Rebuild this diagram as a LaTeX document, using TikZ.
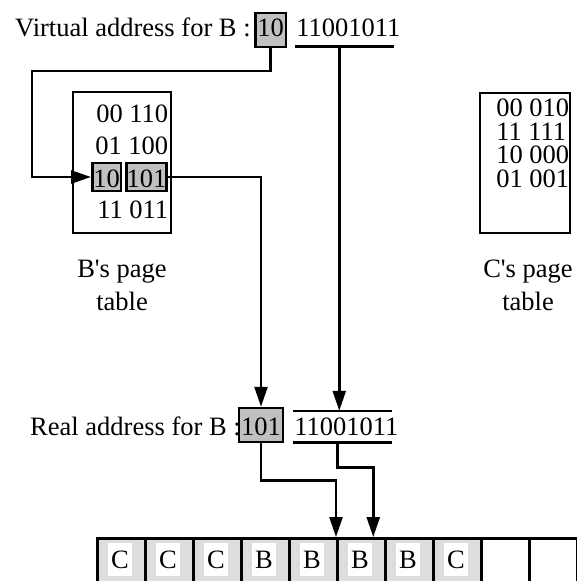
\documentclass[tikz,border=0pt]{standalone}
\usepackage{fontspec}
\setmainfont{Liberation Serif}
\usetikzlibrary{arrows.meta}
\definecolor{hlgray}{RGB}{192,192,192}
\definecolor{cellgray}{RGB}{221,221,221}

\begin{document}
\begin{tikzpicture}[x=1pt,y=-1pt,line width=2.5pt,
    font=\fontsize{26.5}{33}\selectfont,
    arr/.style={-{Triangle[length=20pt,width=13pt]}},
    hl/.style={draw,fill=hlgray,inner ysep=0pt,anchor=base},
    txt/.style={inner sep=0pt,anchor=base west},
    cell/.style={draw,anchor=north west,minimum width=48pt,minimum height=60pt,inner sep=0pt}]
    \useasboundingbox (0,0) rectangle (576,581);
    % virtual address
    \node[txt] (vlabel) at (14,36) {Virtual address for B :};
    \node[hl,inner xsep=2pt,text height=23pt,text depth=11pt] (vpage) at (270.5,36) {10};
    \node[txt,text depth=9pt] (voffset) at (295,36) {11001011};
    \draw (voffset.south west) -- ([xshift=-8pt]voffset.south east);
    \coordinate (vdrop) at ([xshift=-9pt]voffset.south);
    % B's page table
    \node[draw,minimum width=98pt,minimum height=141pt] (btable) at (122,162.5) {};
    \node[txt] (b0) at (95,122) {00 110};
    \node[txt] (b1) at (94,154) {01 100};
    \node[hl,inner xsep=1pt,text height=24pt,text depth=4pt] (bpage) at (106.5,187) {10};
    \node[hl,inner xsep=0pt,text height=24pt,text depth=4pt] (bframe) at (146.5,187) {101};
    \node[txt] (b3) at (96,218) {11 011};
    \node[align=center,anchor=base] (bcap) at (122,310) {B\textquotesingle s page\\table};
    \coordinate (vbend) at (32,71);
    \draw[arr] (vpage.south) |- (vbend) |- (bpage.west);
    % C's page table
    \node[draw,minimum width=90pt,minimum height=140pt] (ctable) at (525,163) {};
    \node[txt,align=left,font=\fontsize{26.5}{23.5}\selectfont] (crows) at (495,187)
      {00 010\\11 111\\10 000\\01 001};
    \node[align=center,anchor=base] (ccap) at (528,310) {C\textquotesingle s page\\table};
    % real address
    \node[txt] (rlabel) at (29,435) {Real address for B :};
    \node[hl,inner xsep=2pt,text height=27pt,text depth=7pt] (rframe) at (261,435) {101};
    \node[txt,text height=23pt,text depth=6pt] (roffset) at (293,435) {11001011};
    \draw (roffset.north west) -- ([xshift=-8pt]roffset.north east);
    \draw (roffset.south west) -- ([xshift=-8pt]roffset.south east);
    \coordinate (rdrop) at ([xshift=-9pt]roffset.south);
    \draw[arr] (bframe.east) -| (rframe.north);
    \draw[arr] (vdrop) -- (vdrop |- roffset.north);
    % memory frames
    \foreach \lbl/\fc [count=\i] in {C/cellgray,C/cellgray,C/cellgray,B/cellgray,B/cellgray,
        B/cellgray,B/cellgray,C/cellgray,/white,/white}{
      \node[cell,fill=\fc] (m\i) at (48+48*\i,537) {};
      \node[fill=white,minimum width=24pt,minimum height=33pt,inner sep=0pt] (l\i) at (72+48*\i,559.5) {\lbl};
    }
    \draw[arr] (rframe.south) -- ++(0,37) -| (m6.north west);
    \draw[arr] (rdrop) -- ++(0,25) -| ([xshift=12pt]m6.north);
\end{tikzpicture}
\end{document}
